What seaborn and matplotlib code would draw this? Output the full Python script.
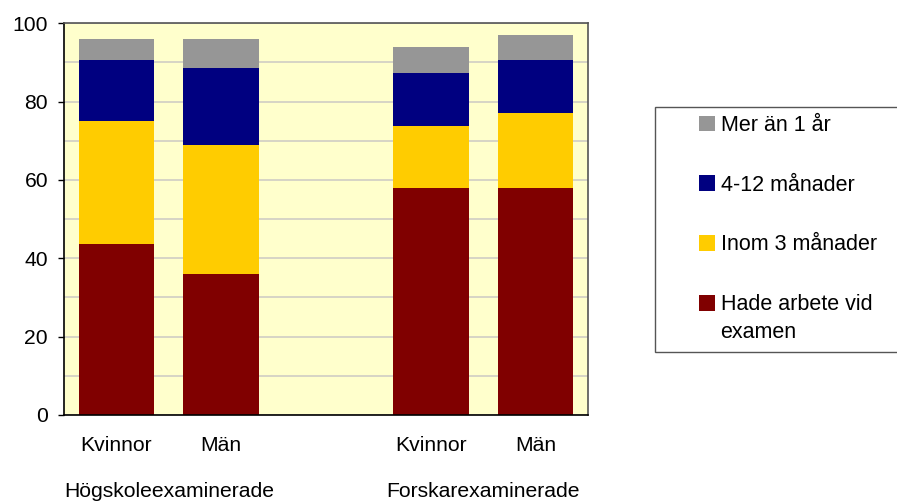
import numpy as np
import pandas as pd
import seaborn as sns
import matplotlib.pyplot as plt
from matplotlib.patches import Patch, Rectangle
from matplotlib.ticker import MultipleLocator

# data (percent)
kon = ["Kvinnor", "Män", "Kvinnor", "Män"]
grupp = ["Högskoleexaminerade", "Högskoleexaminerade",
         "Forskarexaminerade", "Forskarexaminerade"]
hade_arbete = [43.7, 36.0, 58.0, 58.0]
inom_3_man = [31.4, 32.9, 15.8, 19.1]
man_4_12 = [15.5, 19.7, 13.5, 13.5]
mer_an_1_ar = [5.4, 7.4, 6.7, 6.4]

serier = ["Hade arbete vid\nexamen", "Inom 3 månader", "4-12 månader", "Mer än 1 år"]
farger = ["#800000", "#FFCC00", "#000080", "#969696"]

plt.rcParams["font.family"] = ["Liberation Sans", "DejaVu Sans"]
FS = 15.2

# one empty slot between the two groups
grupper = list(dict.fromkeys(grupp))
pos = [i + grupper.index(g) for i, g in enumerate(grupp)]

df = pd.DataFrame({"pos": pos, "kon": kon, "grupp": grupp})
varden = [hade_arbete, inom_3_man, man_4_12, mer_an_1_ar]
cum = np.cumsum(np.array(varden), axis=0)

fig = plt.figure(figsize=(8.97, 5.03), dpi=100)
ax = fig.add_axes([64 / 897, 1 - 415 / 503, 524 / 897, 391.7 / 503])
ax.set_facecolor("#FFFFCC")

# stacked bars: draw cumulative totals from the top down
for k in range(len(serier) - 1, -1, -1):
    df["y"] = cum[k]
    sns.barplot(data=df, x="pos", y="y", native_scale=True, width=0.72,
                color=farger[k], saturation=1, errorbar=None, linewidth=0,
                ax=ax, zorder=2)

ax.set_xlim(-0.5, 4.5)
ax.set_ylim(0, 100)
ax.yaxis.set_major_locator(MultipleLocator(20))
ax.yaxis.set_minor_locator(MultipleLocator(10))
ax.grid(True, axis="y", which="both", color="#CFCDC4", linewidth=1.2, zorder=0)
ax.set_axisbelow(True)

ax.set_xticks(pos)
ax.set_xticklabels(kon, fontsize=FS)
ax.tick_params(axis="x", length=0, pad=15)
ax.tick_params(axis="y", which="major", length=4.5, width=1, direction="out",
               pad=7, labelsize=FS)
ax.tick_params(axis="y", which="minor", length=0)
ax.set_xlabel("")
ax.set_ylabel("")

for s in ["top", "right"]:
    ax.spines[s].set_color("#555555")
    ax.spines[s].set_linewidth(1.2)
for s in ["left", "bottom"]:
    ax.spines[s].set_color("black")
    ax.spines[s].set_linewidth(1.2)

# group labels under the tick labels
trans = ax.get_xaxis_transform()
for g in grupper:
    xs = [p for p, gg in zip(pos, grupp) if gg == g]
    ax.text(np.mean(xs), -0.196, g, transform=trans, ha="center", va="center",
            fontsize=FS)

# legend with a separate frame; the second line of a label is written below
fig.patches.append(Rectangle((655 / 897, 1 - 352 / 503), 250 / 897, 245 / 503,
                             transform=fig.transFigure, facecolor="white",
                             edgecolor="#555555", linewidth=1))
etiketter = [s.split("\n") for s in serier[::-1]]
handles = [Patch(facecolor=c, edgecolor="none") for c in farger[::-1]]
leg = fig.legend(handles, [e[0] for e in etiketter], loc="upper left",
                 bbox_to_anchor=(699 / 897, 1 - 115 / 503), frameon=False,
                 fontsize=FS + 0.3, handlelength=0.75, handleheight=0.75,
                 handletextpad=0.25, labelspacing=1.8, borderpad=0,
                 borderaxespad=0)

fig.canvas.draw()
for txt, e in zip(leg.get_texts(), etiketter):
    if len(e) > 1:
        bb = txt.get_window_extent()
        fig.text(bb.x0 / fig.bbox.width, (bb.y0 - 7) / fig.bbox.height,
                 "\n".join(e[1:]), ha="left", va="top", fontsize=FS + 0.3)

fig.savefig("out.png", dpi=100)
